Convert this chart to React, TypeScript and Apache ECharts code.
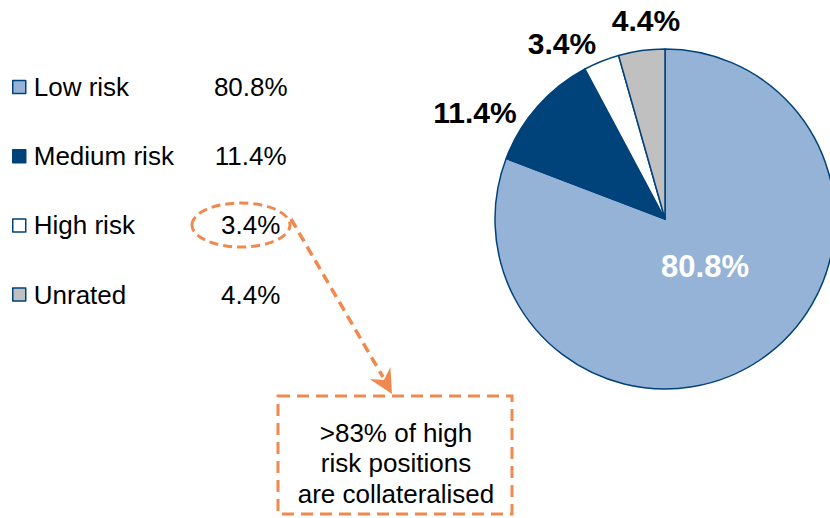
import React, { useEffect, useRef } from 'react';
import * as echarts from 'echarts';

const categories = ['Low risk', 'Medium risk', 'High risk', 'Unrated'];
const shares = [80.8, 11.4, 3.4, 4.4];
const noteLines = ['>83% of high', 'risk positions', 'are collateralised'];

const SLICE_COLORS = ['#95B3D7', '#00427A', '#FFFFFF', '#C0C0C0'];
const EDGE = '#00427A';
const ORANGE = '#F0894F';
const FONT = '"Liberation Sans", Arial, Helvetica, sans-serif';
const LABEL_POS: number[][] = [[705, 266], [475, 112], [562, 43], [646, 20]];

export default function App() {
  const ref = useRef<HTMLDivElement>(null);
  useEffect(() => {
    const chart = echarts.init(ref.current!, null, { renderer: 'svg' });
    const fmt = (v: number) => `${v.toFixed(1)}%`;
    chart.setOption({
      animation: false,
      backgroundColor: '#ffffff',
      legend: {
        orient: 'vertical',
        left: 12,
        top: 74,
        padding: 0,
        itemWidth: 13,
        itemHeight: 13,
        itemGap: 43.2,
        icon: 'rect',
        selectedMode: false,
        itemStyle: { borderColor: EDGE, borderWidth: 1.5 },
        data: categories,
        formatter: (name: string) => {
          const i = categories.indexOf(name);
          return `{n|${name}}{v|${fmt(shares[i])}}`;
        },
        textStyle: {
          fontFamily: FONT,
          fontSize: 26,
          color: '#000',
          rich: {
            n: { fontFamily: FONT, fontSize: 26, color: '#000', width: 177, padding: [0, 0, 0, 3], lineHeight: 30 },
            v: { fontFamily: FONT, fontSize: 26, color: '#000', width: 80, align: 'center', lineHeight: 30 },
          },
        },
      },
      series: [
        {
          type: 'pie',
          center: [665, 219],
          radius: 170,
          startAngle: 90,
          clockwise: true,
          avoidLabelOverlap: false,
          silent: true,
          itemStyle: { borderColor: EDGE, borderWidth: 1.5 },
          label: {
            show: true,
            position: 'outside',
            formatter: (p: any) => fmt(p.value),
            fontFamily: FONT,
            fontWeight: 'bold',
            fontSize: 30,
            color: '#000',
          },
          labelLine: { show: false },
          labelLayout: (p: any) => ({
            x: LABEL_POS[p.dataIndex][0],
            y: LABEL_POS[p.dataIndex][1],
            align: 'center',
            verticalAlign: 'middle',
          }),
          data: categories.map((name, i) => ({
            name,
            value: shares[i],
            itemStyle: { color: SLICE_COLORS[i] },
            label: i === 0 ? { position: 'inside', color: '#ffffff', fontSize: 31 } : undefined,
          })),
        },
      ],
      graphic: [
        {
          type: 'ellipse',
          shape: { cx: 241, cy: 225, rx: 49, ry: 22 },
          style: { fill: 'none', stroke: ORANGE, lineWidth: 3, lineDash: [9, 5] },
        },
        {
          type: 'line',
          shape: { x1: 291, y1: 219, x2: 383, y2: 377 },
          style: { stroke: ORANGE, lineWidth: 3.5, lineDash: [10, 6] },
        },
        {
          type: 'polygon',
          shape: { points: [[392, 394], [369.6, 379], [384, 380], [390.4, 367]] },
          style: { fill: ORANGE },
        },
        {
          type: 'rect',
          shape: { x: 278, y: 396, width: 234, height: 118 },
          style: { fill: 'none', stroke: ORANGE, lineWidth: 3, lineDash: [12, 7] },
        },
        {
          type: 'text',
          x: 396,
          y: 463,
          style: {
            text: noteLines.join('\n'),
            fontFamily: FONT,
            fontSize: 26,
            lineHeight: 30.5,
            fill: '#000',
            align: 'center',
            verticalAlign: 'middle',
            textAlign: 'center',
            textVerticalAlign: 'middle',
          },
        },
      ],
    });
    return () => chart.dispose();
  }, []);
  return <div ref={ref} style={{ position: 'fixed', left: 0, top: 0, width: 830, height: 518 }} />;
}
